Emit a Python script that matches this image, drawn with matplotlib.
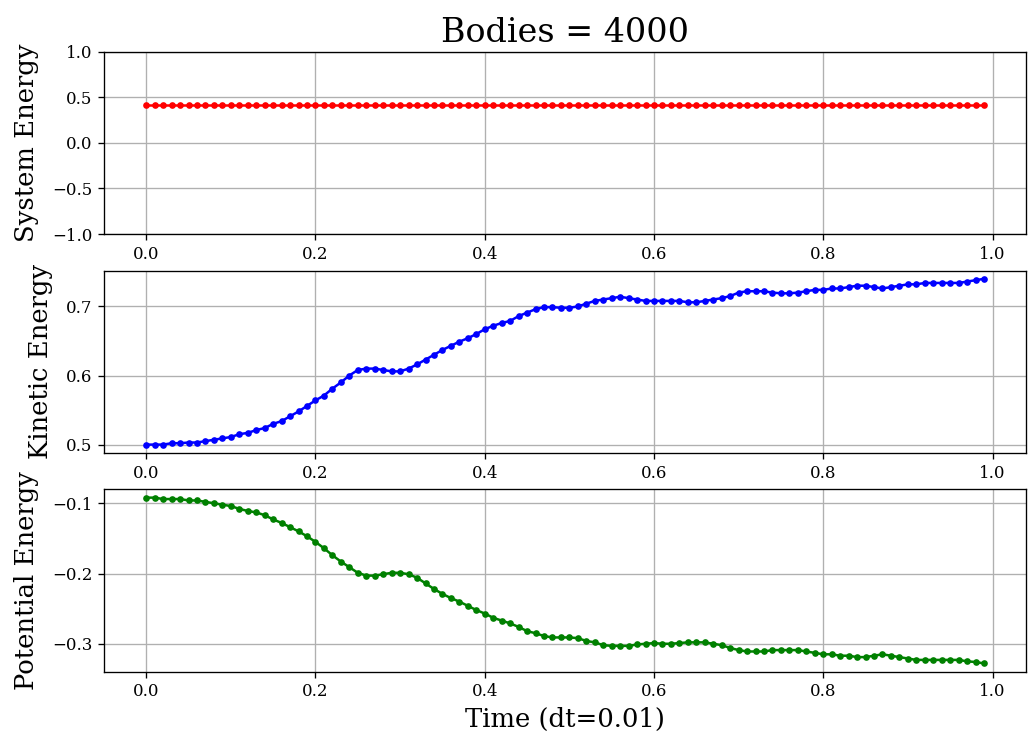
import numpy as np
import matplotlib
matplotlib.use("Agg")
import matplotlib.pyplot as plt
from matplotlib.ticker import MultipleLocator

plt.rcParams['font.family'] = 'DejaVu Serif'

n_steps = 100
dt = 0.01
system_energy = 0.41

kinetic = [
    0.500, 0.500, 0.500, 0.502, 0.502, 0.503, 0.503, 0.505, 0.507, 0.509,
    0.511, 0.515, 0.517, 0.521, 0.524, 0.530, 0.534, 0.541, 0.548, 0.556,
    0.564, 0.571, 0.581, 0.590, 0.600, 0.608, 0.610, 0.610, 0.608, 0.606,
    0.606, 0.610, 0.616, 0.623, 0.630, 0.637, 0.643, 0.649, 0.654, 0.660,
    0.667, 0.672, 0.676, 0.679, 0.686, 0.691, 0.696, 0.699, 0.699, 0.698,
    0.698, 0.700, 0.704, 0.708, 0.710, 0.712, 0.714, 0.712, 0.710, 0.708,
    0.708, 0.708, 0.708, 0.708, 0.706, 0.706, 0.708, 0.710, 0.712, 0.715,
    0.720, 0.722, 0.722, 0.722, 0.720, 0.719, 0.719, 0.720, 0.722, 0.724,
    0.724, 0.726, 0.726, 0.728, 0.730, 0.730, 0.728, 0.726, 0.728, 0.730,
    0.732, 0.732, 0.734, 0.734, 0.734, 0.734, 0.734, 0.736, 0.738, 0.740,
]

potential = [
    -0.092, -0.092, -0.094, -0.094, -0.094, -0.096, -0.096, -0.098, -0.100, -0.102,
    -0.104, -0.108, -0.111, -0.113, -0.117, -0.123, -0.128, -0.134, -0.140, -0.147,
    -0.155, -0.164, -0.174, -0.183, -0.191, -0.199, -0.203, -0.203, -0.201, -0.199,
    -0.199, -0.201, -0.206, -0.214, -0.222, -0.229, -0.235, -0.240, -0.246, -0.252,
    -0.257, -0.263, -0.267, -0.271, -0.276, -0.282, -0.285, -0.289, -0.291, -0.291,
    -0.291, -0.292, -0.296, -0.298, -0.302, -0.303, -0.303, -0.303, -0.301, -0.300,
    -0.299, -0.300, -0.300, -0.299, -0.298, -0.298, -0.298, -0.300, -0.302, -0.306,
    -0.309, -0.311, -0.311, -0.311, -0.309, -0.309, -0.309, -0.309, -0.311, -0.313,
    -0.315, -0.315, -0.317, -0.317, -0.319, -0.319, -0.317, -0.315, -0.317, -0.319,
    -0.321, -0.323, -0.323, -0.323, -0.323, -0.323, -0.323, -0.325, -0.326, -0.328,
]

t = np.arange(n_steps) * dt
total = [system_energy] * n_steps

fig, (ax1, ax2, ax3) = plt.subplots(3, 1, figsize=(1028 / 120, 733 / 120), dpi=120)
fig.subplots_adjust(left=0.1015, right=0.998, top=0.9295, bottom=0.0836, hspace=0.2)

label_size = 15.5

ax1.plot(t, total, 'r.-')
ax1.set_ylim(-1, 1)
ax1.set_ylabel('System Energy', fontsize=label_size, labelpad=8)
ax1.set_title('Bodies = 4000', fontsize=20)
ax1.grid()

ax2.plot(t, kinetic, 'b.-')
ax2.yaxis.set_major_locator(MultipleLocator(0.1))
ax2.set_ylabel('Kinetic Energy', fontsize=label_size, labelpad=8)
ax2.grid()

ax3.plot(t, potential, 'g.-')
ax3.yaxis.set_major_locator(MultipleLocator(0.1))
ax3.set_ylabel('Potential Energy', fontsize=label_size, labelpad=8)
ax3.set_xlabel('Time (dt=0.01)', fontsize=label_size)
ax3.grid()

fig.savefig('out.png', dpi=120)
